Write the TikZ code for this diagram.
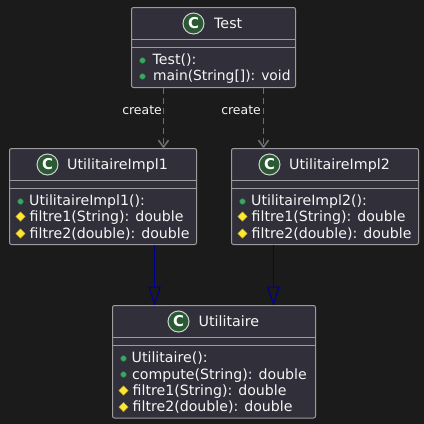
\documentclass[tikz,border=0pt]{standalone}
\usepackage{fontspec}
\setmainfont{DejaVu Sans}
\usetikzlibrary{arrows.meta,shapes.geometric}
\definecolor{bgc}{HTML}{1B1B1B}
\definecolor{boxc}{HTML}{302F3A}
\definecolor{edgec}{HTML}{9C9C9C}
\definecolor{greyc}{HTML}{6E6E6E}
\definecolor{navyc}{HTML}{000090}
\definecolor{greenc}{HTML}{2A5A33}
\definecolor{pubc}{HTML}{3FA565}
\definecolor{protc}{HTML}{FFE633}
\definecolor{txtc}{HTML}{F6F6F6}
\tikzset{
  x=1bp,y=-1bp,
  classbox/.style={draw=edgec,fill=boxc,line width=1bp,rounded corners=2bp,inner sep=0pt,outer sep=0pt,anchor=north west},
  rule/.style={draw=edgec,line width=1bp},
  badge/.style={circle,draw=txtc!85!black,fill=greenc,line width=1bp,minimum size=21bp,inner sep=0pt,text=white,font=\fontsize{15}{15}\selectfont\bfseries},
  title/.style={text=txtc,inner sep=0pt,anchor=base west,font=\fontsize{14.3}{14}\selectfont},
  member/.style={text=txtc,inner sep=0pt,anchor=base west,font=\fontsize{14.2}{14}\selectfont},
  membertight/.style={member,font=\fontsize{13.9}{14}\selectfont},
  pubmark/.style={circle,draw=pubc!60!black,fill=pubc,line width=0.5bp,minimum size=6bp,inner sep=0pt},
  protmark/.style={diamond,draw=protc!70!black,fill=protc,line width=0.5bp,minimum size=9.5bp,inner sep=0pt},
  lbl/.style={text=txtc,inner sep=0pt,anchor=base east,font=\fontsize{12.5}{13}\selectfont},
  dep/.style={draw=greyc,line width=1bp,dash pattern=on 6bp off 4bp,-{Straight Barb[length=7bp,width=10bp,line width=1.6bp]}},
  inh/.style={draw=navyc,line width=1bp,-{Triangle[open,length=19bp,width=12.5bp,line width=1bp]}},
}
\begin{document}
\begin{tikzpicture}
\useasboundingbox (0,0) rectangle (424,424);
\fill[bgc] (0,0) rectangle (424,424);

% Test
\node[classbox,minimum width=164bp,minimum height=80bp] (test) at (131.5,7.5) {};
\draw[rule] (131.5,39.5) -- (295.5,39.5);
\draw[rule] (131.5,47.5) -- (295.5,47.5);
\node[badge] (testc) at (193.5,23.5) {C};
\node[title] (testt) at (214,28.2) {Test};
\node[pubmark] (testm1) at (142.5,60.5) {};
\node[member] (testa) at (152.5,64.5) {Test():};
\node[pubmark] (testm2) at (142.5,76.5) {};
\node[membertight] (testb) at (153,80.5) {main(String[]): void};

% Impl1
\node[classbox,minimum width=187bp,minimum height=96bp] (implA) at (9.5,148.5) {};
\draw[rule] (9.5,180.5) -- (196.5,180.5);
\draw[rule] (9.5,188.5) -- (196.5,188.5);
\node[badge] (implAc) at (47.5,164.5) {C};
\node[title] (implAt) at (67,169.2) {UtilitaireImpl1};
\node[pubmark] (implAm1) at (20.5,201.5) {};
\node[member] (implAa) at (29,205.5) {UtilitaireImpl1():};
\node[protmark] (implAm2) at (20.5,216.5) {};
\node[member] (implAb) at (29.5,221.5) {filtre1(String): double};
\node[protmark] (implAm3) at (20.5,233.5) {};
\node[member] (implAd) at (29.5,238) {filtre2(double): double};

% Impl2
\node[classbox,minimum width=187bp,minimum height=96bp] (implB) at (231.5,148.5) {};
\draw[rule] (231.5,180.5) -- (418.5,180.5);
\draw[rule] (231.5,188.5) -- (418.5,188.5);
\node[badge] (implBc) at (269.5,164.5) {C};
\node[title] (implBt) at (289,169.2) {UtilitaireImpl2};
\node[pubmark] (implBm1) at (242.5,201.5) {};
\node[member] (implBa) at (251,205.5) {UtilitaireImpl2():};
\node[protmark] (implBm2) at (242.5,216.5) {};
\node[member] (implBb) at (251.5,221.5) {filtre1(String): double};
\node[protmark] (implBm3) at (242.5,233.5) {};
\node[member] (implBd) at (251.5,238) {filtre2(double): double};

% Utilitaire
\node[classbox,minimum width=203bp,minimum height=112.5bp] (util) at (112.5,305.5) {};
\draw[rule] (112.5,337.5) -- (315.5,337.5);
\draw[rule] (112.5,345.5) -- (315.5,345.5);
\node[badge] (utilc) at (178.5,321.5) {C};
\node[title] (utilt) at (198.5,326.2) {Utilitaire};
\node[pubmark] (utilm1) at (123.5,358.5) {};
\node[member] (utila) at (131.5,362.5) {Utilitaire():};
\node[pubmark] (utilm2) at (123.5,374.5) {};
\node[member] (utilb) at (132,379) {compute(String): double};
\node[protmark] (utilm3) at (123.5,390.5) {};
\node[member] (utild) at (132.5,395) {filtre1(String): double};
\node[protmark] (utilm4) at (123.5,407) {};
\node[member] (utile) at (132.5,411.5) {filtre2(double): double};

% Connector anchor columns
\coordinate (colA) at (163.5,0);
\coordinate (colB) at (263.5,0);
\coordinate (colC) at (154.5,0);
\coordinate (colD) at (273.5,0);

\draw[dep] (test.south -| colA) -- (implA.north -| colA);
\draw[dep] (test.south -| colB) -- (implB.north -| colB);
\draw[inh] (implA.south -| colC) -- (util.north -| colC);
\draw[inh] (implB.south -| colD) -- (util.north -| colD);

\node[lbl] (createA) at (162,114) {create};
\node[lbl] (createB) at (261,114) {create};
\end{tikzpicture}
\end{document}
